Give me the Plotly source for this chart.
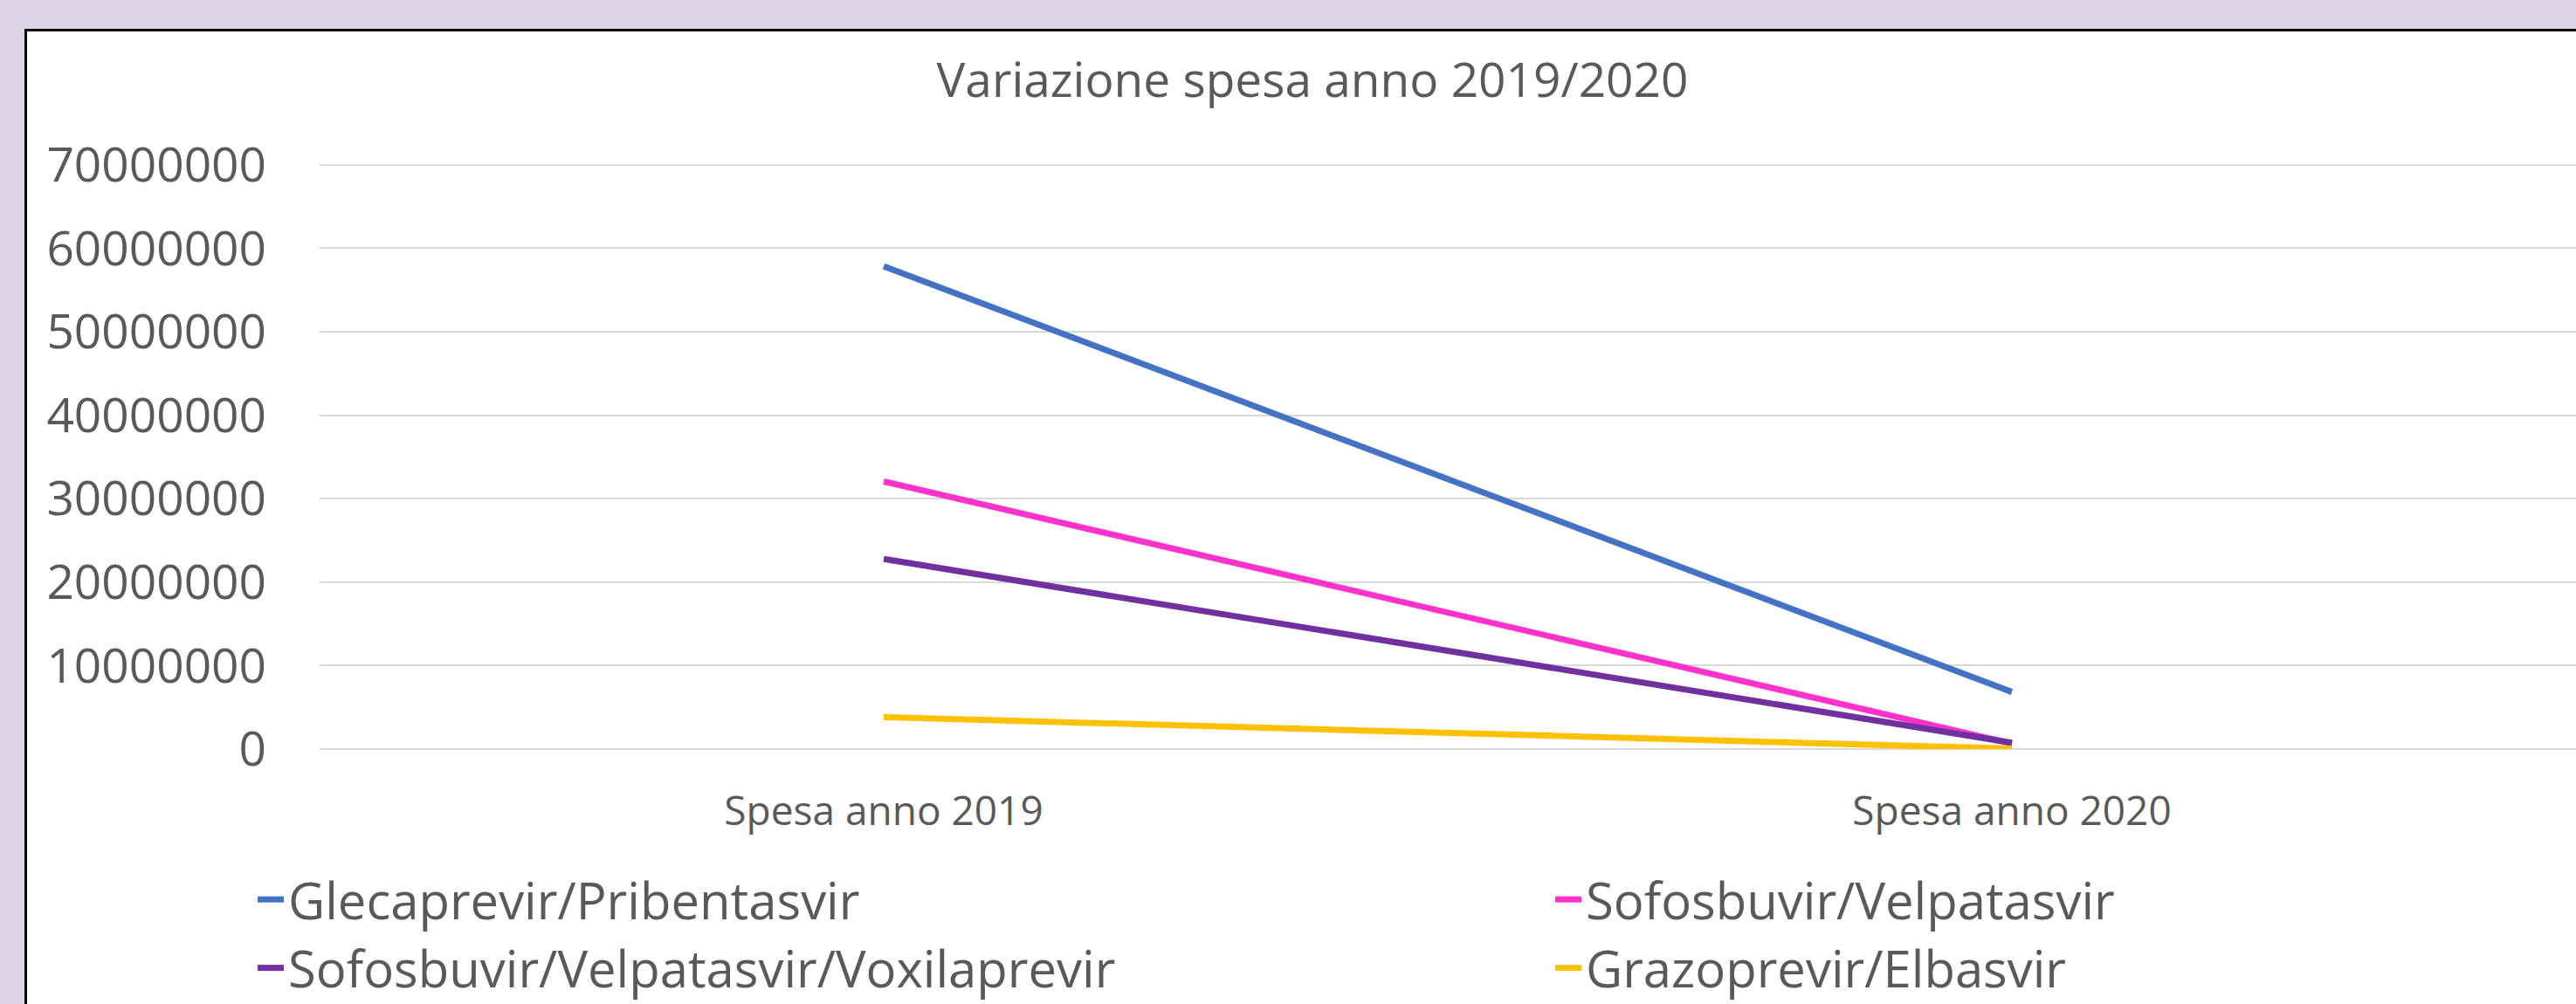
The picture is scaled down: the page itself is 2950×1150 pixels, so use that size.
import plotly.graph_objects as go

categories = ["Spesa anno 2019", "Spesa anno 2020"]
series_names = [
    "Glecaprevir/Pribentasvir",
    "Sofosbuvir/Velpatasvir",
    "Sofosbuvir/Velpatasvir/Voxilaprevir",
    "Grazoprevir/Elbasvir",
]
glecaprevir = [57850000, 6840000]
sofos_velpa = [32060000, 650000]
sofos_velpa_voxi = [22780000, 760000]
grazo_elba = [3830000, 50000]
series_values = [glecaprevir, sofos_velpa, sofos_velpa_voxi, grazo_elba]
legend_column = ["legend", "legend2", "legend", "legend2"]
colors = ["#4472C4", "#FF33CC", "#7030A0", "#FFC000"]
y_ticks = [0, 10000000, 20000000, 30000000, 40000000, 50000000, 60000000, 70000000]
y_max = 70500000
title_text = "Variazione spesa anno 2019/2020"

W, H = 2950, 1150
L, R, T, B = 366, 0, 184, 292
PW = W - L - R
PH = H - T - B

def px_x(px):
    return (px - L) / PW

def px_y(py):
    return (H - B - py) / PH

FONT = "Open Sans"
GREY = "#595959"

fig = go.Figure()
for name, vals, col, leg in zip(series_names, series_values, colors, legend_column):
    fig.add_trace(go.Scatter(
        x=categories, y=vals, name=name, mode="lines",
        line=dict(color=col, width=7), legend=leg, legendgroup=name,
    ))

legend_common = dict(orientation="v", yanchor="top", xanchor="left",
                     font=dict(size=58, color=GREY, family=FONT),
                     bgcolor="rgba(0,0,0,0)", borderwidth=0,
                     traceorder="normal", tracegroupgap=3)

fig.update_layout(
    width=W, height=H,
    margin=dict(l=L, r=R, t=T, b=B, autoexpand=False),
    paper_bgcolor="#DCD3E4",
    plot_bgcolor="rgba(0,0,0,0)",
    font=dict(family=FONT, color=GREY),
    title=dict(text=title_text, font=dict(size=55, color=GREY, family=FONT),
               xref="container", x=1503 / W, xanchor="center",
               yref="container", y=1 - 92 / H, yanchor="middle"),
    showlegend=True,
    legend=dict(x=px_x(290), y=px_y(986), **legend_common),
    legend2=dict(x=px_x(1776), y=px_y(986), **legend_common),
    shapes=[dict(type="rect", xref="paper", yref="paper",
                 x0=px_x(29.5), x1=px_x(2970), y0=px_y(1170), y1=px_y(34.5),
                 fillcolor="white", line=dict(color="black", width=3),
                 layer="below")],
)
fig.update_xaxes(type="category", range=[-0.5, 1.5], showgrid=False,
                 showline=False, zeroline=False, ticks="",
                 tickfont=dict(size=46, color=GREY, family=FONT),
                 ticklabelstandoff=40)
fig.update_yaxes(range=[0, y_max], tickvals=y_ticks, tickformat="d",
                 showgrid=True, gridcolor="#D9D9D9", gridwidth=2,
                 zeroline=True, zerolinecolor="#D9D9D9", zerolinewidth=2,
                 showline=False, ticks="",
                 tickfont=dict(size=55, color=GREY, family=FONT),
                 ticklabelstandoff=60)
fig.write_html("out.html", config={"displayModeBar": False},
               post_script="document.body.style.margin='0';document.body.style.overflow='hidden';")
